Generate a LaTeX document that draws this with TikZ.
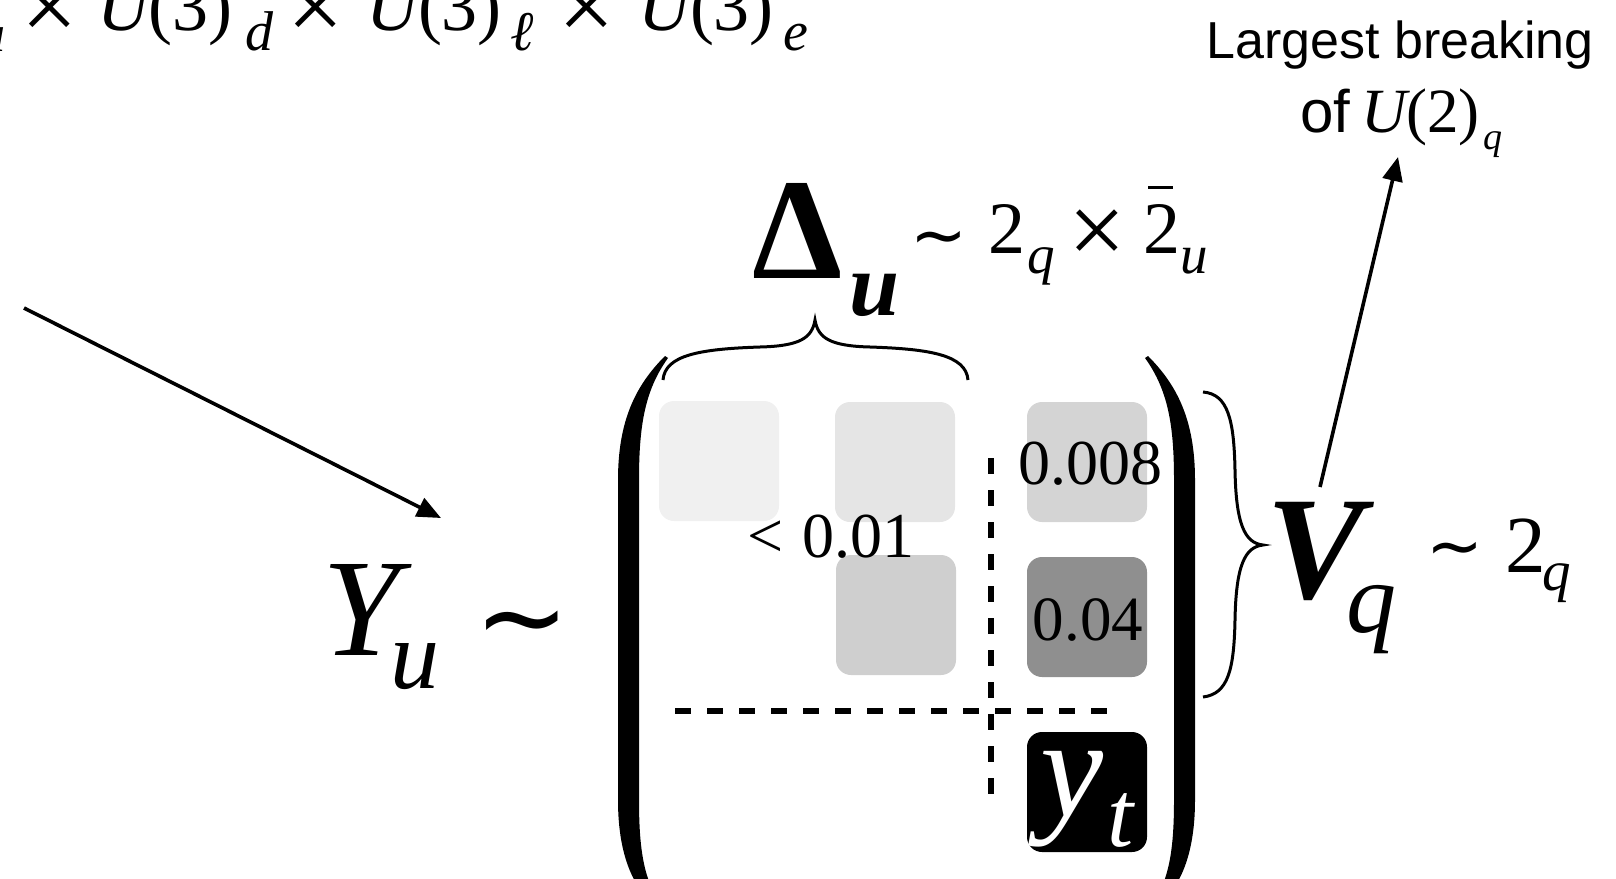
\documentclass[tikz,border=0pt]{standalone}
\usepackage{fontspec}
\setmainfont{Liberation Serif}
\newfontfamily\lsans{Liberation Sans}
\newfontfamily\dvs{DejaVu Sans}
\usetikzlibrary{arrows.meta}
\newcommand\fs[1]{\fontsize{#1}{#1}\selectfont}
\newcommand\bartwo{\leavevmode\rlap{\hspace{0.07em}\raisebox{0.86em}{\rule{0.34em}{0.045em}}}2}
\begin{document}
\begin{tikzpicture}[x=0.5pt,y=-0.5pt,
  txt/.style={inner sep=0pt,outer sep=0pt,anchor=base west},
  txtc/.style={inner sep=0pt,outer sep=0pt,anchor=base},
  cell/.style={inner sep=0pt,minimum width=60pt,minimum height=60pt,rounded corners=7.5pt,draw=none},
  arr/.style={line width=1.8pt,-{Triangle[length=12pt,width=10pt]}},
  brc/.style={line width=1.5pt},
  dsh/.style={line width=3.2pt,dash pattern=on 8pt off 8pt},
  par/.style={fill=black,draw=none}]
\useasboundingbox (0,0) rectangle (1616,878);
\clip (0,0) rectangle (1616,878);

% ---- top line (cropped) ----
\node[inner sep=0pt,anchor=base east] (t0) at (6,51) {\fs{26pt}\itshape u};
\node[txtc] (t1) at (50,40) {\fs{50pt}×};
\node[txt] (t2) at (97,31) {\fs{36pt}{\itshape U}(3)};
\node[txt] (t3) at (245,50) {\fs{28pt}\itshape d};
\node[txtc] (t4) at (316,40) {\fs{50pt}×};
\node[txt] (t5) at (366,31) {\fs{36pt}{\itshape U}(3)};
\node[txt] (t6) at (510,50) {\fs{28pt}\itshape ℓ};
\node[txtc] (t7) at (587,40) {\fs{50pt}×};
\node[txt] (t8) at (638,31) {\fs{36pt}{\itshape U}(3)};
\node[txt] (t9) at (783,50) {\fs{28pt}\itshape e};

% ---- label top right ----
\node[txtc] (lb1) at (1400,58) {\lsans\fs{26pt}Largest breaking};
\node[txt] (lb2) at (1300,132) {\lsans\fs{30pt}of};
\node[txt] (lb3) at (1361,132) {\fs{31.5pt}{\itshape U}(2)};
\node[txt] (lb4) at (1483,149) {\fs{19pt}\itshape q};

% ---- Delta_u ----
\node[txt] (D0) at (752,278) {\fs{72pt}\bfseries Δ};
\node[txt] (D1) at (849,315) {\fs{45pt}\bfseries\itshape u};
\node[txt] (D2) at (910,258) {\dvs\fs{34pt}∼};
\node[txt] (D3) at (988,253) {\fs{37pt}2};
\node[txt] (D4) at (1027,273) {\fs{27.5pt}\itshape q};
\node[txtc] (D5) at (1097,264) {\fs{51pt}×};
\node[txt] (D6) at (1143,253) {\fs{37pt}\bartwo};
\node[txt] (D7) at (1180,273) {\fs{27.5pt}\itshape u};

% ---- Y_u ~ ----
\node[txt] (Y0) at (322,655) {\fs{69.5pt}\itshape Y};
\node[txt] (Y1) at (390,688) {\fs{49pt}\itshape u};
\node[txt] (Y2) at (474,656) {\dvs\fs{57pt}∼};

% ---- V_q ~ 2_q ----
\node[txt] (V0) at (1266,598) {\fs{73.5pt}\bfseries\itshape V};
\node[txt] (V1) at (1346,632) {\fs{50pt}\itshape q};
\node[txt] (V2) at (1426,569) {\dvs\fs{34pt}∼};
\node[txt] (V3) at (1505,572) {\fs{40.5pt}2};
\node[txt] (V4) at (1542,590) {\fs{28.5pt}\itshape q};

% ---- matrix cells ----
\node[cell,fill=black!6]  (c11) at (719,461) {};
\node[cell,fill=black!10] (c12) at (895,462) {};
\node[cell,fill=black!17] (c13) at (1087,462) {};
\node[cell,fill=black!19] (c22) at (896,615) {};
\node[cell,fill=black!44] (c23) at (1087,617) {};
\node[cell,fill=black]    (c33) at (1087,792) {};

\node[txtc] (n13) at (1090,484) {\fs{32pt}0.008};
\node[txtc] (n23) at (1088,640) {\fs{31.5pt}0.04};
\node[txt]  (n12) at (747,557) {\fs{32pt}<\hspace{0.3em}0.01};
\node[txt,text=white] (yt0) at (1040,816) {\fs{71pt}\itshape y};
\node[txt,text=white] (yt1) at (1107,846) {\fs{47pt}\itshape t};

% ---- dashed separators ----
\coordinate (dv0) at (991,458);
\coordinate (dv1) at (991,795);
\coordinate (dh0) at (675,711);
\coordinate (dh1) at (1109,711);
\draw[dsh] (dv0) -- (dv1);
\draw[dsh] (dh0) -- (dh1);

% ---- parentheses ----
\fill[par] (665,356) .. controls (636,385) and (618,420) .. (618,480) -- (618,800)
  .. controls (618,860) and (636,895) .. (665,914) -- (668,912)
  .. controls (645,888) and (639,855) .. (639,800) -- (639,480)
  .. controls (639,425) and (645,390) .. (668,358) -- cycle;
\fill[par] (1148,356) .. controls (1177,385) and (1195,420) .. (1195,480) -- (1195,800)
  .. controls (1195,860) and (1177,895) .. (1148,914) -- (1145,912)
  .. controls (1168,888) and (1174,855) .. (1174,800) -- (1174,480)
  .. controls (1174,425) and (1168,390) .. (1145,358) -- cycle;

% ---- braces ----
\draw[brc] (663,380) .. controls (665,355) and (700,349) .. (760,347)
  .. controls (800,346) and (812,338) .. (815,320)
  .. controls (818,338) and (830,346) .. (870,347)
  .. controls (930,349) and (966,355) .. (968,380);
\draw[brc] (1203,392) .. controls (1228,394) and (1234,420) .. (1235,470)
  .. controls (1236,525) and (1245,543) .. (1263,545)
  .. controls (1245,547) and (1236,565) .. (1235,620)
  .. controls (1234,670) and (1228,694) .. (1203,697);

% ---- arrows ----
\coordinate (aL0) at (24,308);
\coordinate (aL1) at (441,518);
\coordinate (aU0) at (1320,487);
\coordinate (aU1) at (1398,157);
\draw[arr] (aL0) -- (aL1);
\draw[arr] (aU0) -- (aU1);
\end{tikzpicture}
\end{document}
